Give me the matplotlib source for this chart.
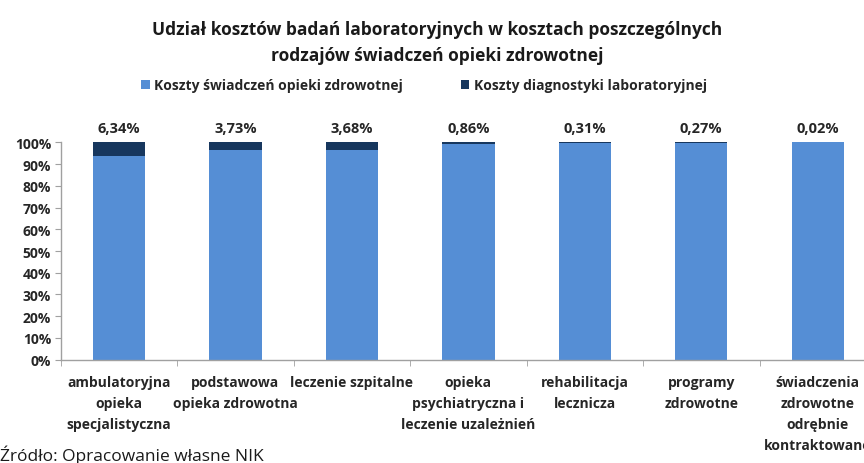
import matplotlib
matplotlib.use("Agg")
import matplotlib.pyplot as plt
import numpy as np
from matplotlib.ticker import FixedLocator, PercentFormatter

plt.rcParams['font.family'] = ['Open Sans', 'DejaVu Sans']

categories = [
    "ambulatoryjna\nopieka\nspecjalistyczna",
    "podstawowa\nopieka zdrowotna",
    "leczenie szpitalne",
    "opieka\npsychiatryczna i\nleczenie uzależnień",
    "rehabilitacja\nlecznicza",
    "programy\nzdrowotne",
    "świadczenia\nzdrowotne\nodrębnie\nkontraktowane",
]
lab_share = [6.34, 3.73, 3.68, 0.86, 0.31, 0.27, 0.02]
care_share = [100 - v for v in lab_share]
value_labels = ["6,34%", "3,73%", "3,68%", "0,86%", "0,31%", "0,27%", "0,02%"]
series_names = ["Koszty świadczeń opieki zdrowotnej", "Koszty diagnostyki laboratoryjnej"]

c_light = "#558ED5"
c_dark = "#17375E"
txt = "#262626"

fig = plt.figure(figsize=(8.64, 4.64), dpi=100)
ax = fig.add_axes([60.7 / 864, 1 - 360.7 / 464, (876 - 60.7) / 864, (360.7 - 143.3) / 464])

x = np.arange(len(categories))
w = 0.45
ax.bar(x, care_share, w, color=c_light, label=series_names[0], zorder=2)
ax.bar(x, lab_share, w, bottom=care_share, color=c_dark, label=series_names[1], zorder=2)

for xi, lbl in zip(x, value_labels):
    ax.text(xi, 103.5, lbl, ha="center", va="bottom", fontsize=10.5, fontweight="bold", color=txt)

ax.set_xlim(-0.5, 6.5)
ax.set_ylim(0, 100)
ax.yaxis.set_major_locator(FixedLocator(np.arange(0, 101, 10)))
ax.yaxis.set_major_formatter(PercentFormatter(decimals=0))
ax.set_xticks(x)
ax.set_xticklabels(categories, fontsize=10, fontweight="bold", color=txt, linespacing=1.65, va="top")
ax.tick_params(axis="x", which="major", length=0, pad=11)
ax.set_xticks(np.arange(-0.5, 7, 1), minor=True)
ax.tick_params(axis="x", which="minor", length=4, color="#A0A0A0", direction="out")
ax.tick_params(axis="y", length=4, color="#A0A0A0", labelsize=10, labelcolor=txt, pad=3)
for t in ax.get_yticklabels():
    t.set_fontweight("bold")
for s in ["top", "right"]:
    ax.spines[s].set_visible(False)
for s in ["left", "bottom"]:
    ax.spines[s].set_color("#A0A0A0")
    ax.spines[s].set_linewidth(1)

fig.text(437 / 864, 1 - 43 / 464, "Udział kosztów badań laboratoryjnych w kosztach poszczególnych\nrodzajów świadczeń opieki zdrowotnej",
         ha="center", va="center", fontsize=12.5, fontweight="bold", color="#1a1a1a", linespacing=1.55)

leg = fig.legend(loc="center", bbox_to_anchor=(424 / 864, 1 - 86 / 464), ncol=2, frameon=False,
                 handlelength=0.6, handleheight=0.6, handletextpad=0.3, columnspacing=4.2,
                 prop={"weight": "bold", "size": 10})
for t in leg.get_texts():
    t.set_color(txt)

fig.text(0, 1 - 455 / 464, "Źródło: Opracowanie własne NIK", ha="left", va="center",
         fontsize=12.5, color="#1a1a1a")

fig.savefig("out.png", dpi=100)
